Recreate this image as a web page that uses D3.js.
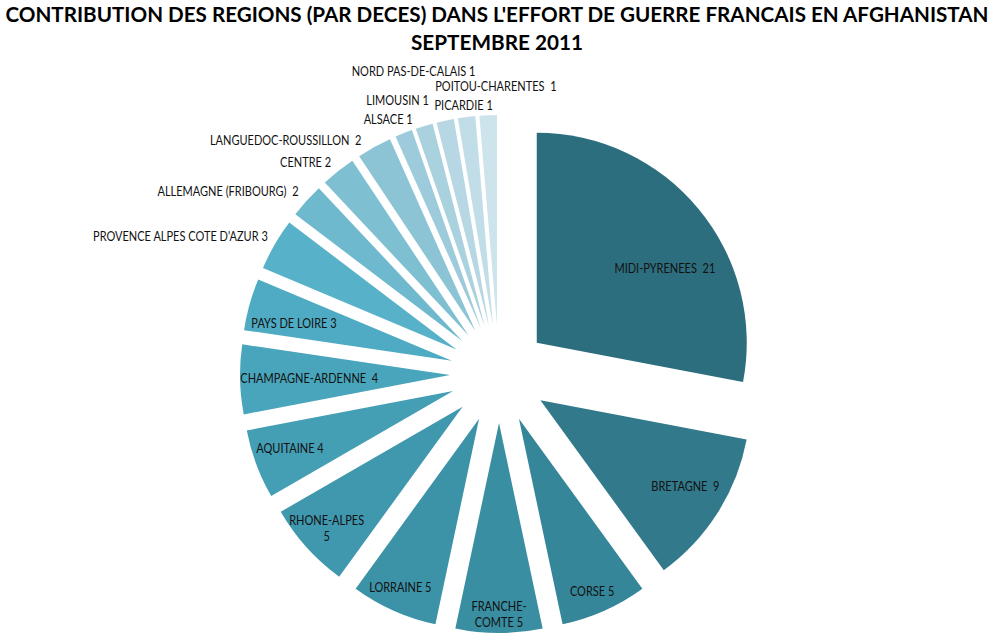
<!DOCTYPE html>
<html lang="fr">
<head>
<meta charset="utf-8">
<title>Contribution des regions - Afghanistan</title>
<script src="https://cdn.jsdelivr.net/npm/d3@7"></script>
<style>
	body { margin: 0; background: #fff; }
	text { font-family: Lato, "Open Sans", sans-serif; white-space: pre; }
</style>
</head>
<body>
<script>

	// data
	var regions = ["MIDI-PYRENEES ", "BRETAGNE ", "CORSE", "FRANCHE-COMTE", "LORRAINE", "RHONE-ALPES",
				   "AQUITAINE", "CHAMPAGNE-ARDENNE ", "PAYS DE LOIRE", "PROVENCE ALPES COTE D'AZUR",
				   "ALLEMAGNE (FRIBOURG) ", "CENTRE", "LANGUEDOC-ROUSSILLON ", "ALSACE", "LIMOUSIN",
				   "NORD PAS-DE-CALAIS", "POITOU-CHARENTES ", "PICARDIE"];
	var deces = [21, 9, 5, 5, 5, 5, 4, 4, 3, 3, 2, 2, 2, 1, 1, 1, 1, 1];
	var titleLines = ["CONTRIBUTION DES REGIONS (PAR DECES) DANS L'EFFORT DE GUERRE FRANCAIS EN AFGHANISTAN",
					  "SEPTEMBRE 2011"];

	// style
	var colors = ["#2d6e7e", "#327a8b", "#36869a", "#398ea2", "#3c93a8", "#4098ae", "#449eb4", "#49a5bb",
				  "#4eabc3", "#57b1c9", "#6fb9ce", "#7ebfd2", "#8cc4d6", "#9ecbdb", "#aad1de", "#b6d7e3",
				  "#c1dde7", "#cde4ec"];
	var w = 994, h = 644;
	var cx = 499, cy = 374, r = 210, explode = 49;
	var insideCount = 9;
	var squeeze = 0.88;   // lato is wider than the original font
	var wrap = { "FRANCHE-COMTE": ["FRANCHE-", "COMTE 5"], "RHONE-ALPES": ["RHONE-ALPES", "5"] };
	// hand tweaks of label placement, like the excel layout
	var nudge = {
		"MIDI-PYRENEES ": [5, 28], "BRETAGNE ": [0, -5], "CORSE": [-2, 4], "FRANCHE-COMTE": [0, 7],
		"LORRAINE": [-4, 1], "RHONE-ALPES": [-12, 11], "AQUITAINE": [-3, -2], "CHAMPAGNE-ARDENNE ": [-4, 1],
		"PAYS DE LOIRE": [-2, 7], "PROVENCE ALPES COTE D'AZUR": [0, -4], "ALLEMAGNE (FRIBOURG) ": [-2, -3],
		"CENTRE": [-2, -2], "LANGUEDOC-ROUSSILLON ": [-9, 1], "ALSACE": [12, -6], "LIMOUSIN": [7, -17],
		"NORD PAS-DE-CALAIS": [32, -41], "POITOU-CHARENTES ": [91, -22], "PICARDIE": [5, -1]
	};

	var svg = d3.select("body").append("svg")
				.attr("width", w)
				.attr("height", h);

	// title
	svg.selectAll("text.title")
	   .data(titleLines)
	   .enter()
	   .append("text")
	   .attr("class", "title")
	   .attr("x", w / 2)
	   .attr("y", function(d, i) { return 22 + i * 28; })
	   .attr("text-anchor", "middle")
	   .attr("font-size", "20px")
	   .attr("font-weight", "bold")
	   .attr("fill", "#000")
	   .attr("textLength", function(d, i) { return i == 0 ? 983 : 172; })
	   .attr("lengthAdjust", "spacingAndGlyphs")
	   .text(function(d) { return d; });

	var pie = d3.pie().sort(null).value(function(d) { return d; });
	var arcs = pie(deces);
	var arc = d3.arc().innerRadius(0).outerRadius(r);

	function dir(a) {
		var m = (a.startAngle + a.endAngle) / 2;
		return [Math.sin(m), -Math.cos(m)];
	}

	var g = svg.append("g").attr("transform", "translate(" + cx + "," + cy + ")");

	// slices, each pushed out along its middle angle
	g.selectAll("path")
	 .data(arcs)
	 .enter()
	 .append("path")
	 .attr("d", arc)
	 .attr("transform", function(d) {
		var u = dir(d);
		return "translate(" + (u[0] * explode) + "," + (u[1] * explode) + ")";
	 })
	 .attr("fill", function(d, i) { return colors[i]; });

	// labels
	var labels = g.selectAll("text.lbl")
				  .data(arcs)
				  .enter()
				  .append("text")
				  .attr("class", "lbl")
				  .attr("font-size", "12.5px")
				  .attr("fill", "#111");

	labels.each(function(d, i) {
		var t = d3.select(this);
		var name = regions[i];
		var lines = wrap[name] || [name + " " + d.value];
		var bw = 0;
		t.selectAll("tspan")
		 .data(lines)
		 .enter()
		 .append("tspan")
		 .attr("dy", function(l, k) { return k == 0 ? 0 : 16; })
		 .text(function(l) { return l; })
		 .each(function() {
			var len = this.getComputedTextLength() * squeeze;
			d3.select(this).attr("textLength", len).attr("lengthAdjust", "spacingAndGlyphs");
			bw = Math.max(bw, len);
		 });

		var bh = lines.length * 16;
		var u = dir(d);
		var ax = u[0] * explode, ay = u[1] * explode;
		var px, py, anchor;

		if (i < insideCount) {
			// push out from the apex until the box touches the rim
			var dist = 0.88 * r;
			while (dist > 20) {
				var mx = dist * u[0], my = dist * u[1];
				var far = 0;
				[[-1, -1], [-1, 1], [1, -1], [1, 1]].forEach(function(c) {
					var xx = mx + c[0] * bw / 2, yy = my + c[1] * bh / 2;
					far = Math.max(far, Math.sqrt(xx * xx + yy * yy));
				});
				if (far <= r - 4) break;
				dist -= 1;
			}
			px = ax + dist * u[0];
			py = ay + dist * u[1];
			anchor = "middle";
		} else {
			px = ax + (r + 8) * u[0];
			py = ay + (r + 8) * u[1];
			anchor = u[0] < 0 ? "end" : "start";
		}
		var n = nudge[name] || [0, 0];
		px += n[0];
		py += n[1];
		t.attr("text-anchor", anchor);
		t.selectAll("tspan").attr("x", px);
		t.attr("y", py - (lines.length - 1) * 8 + 4);
	});

</script>
</body>
</html>
